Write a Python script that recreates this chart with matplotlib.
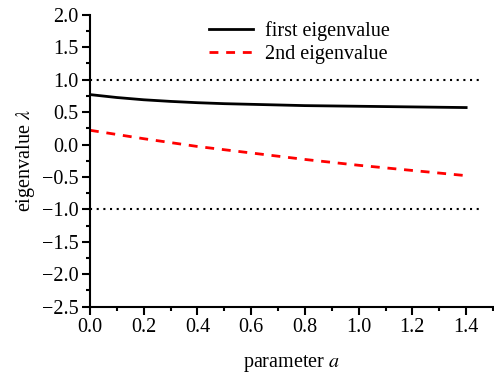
import matplotlib
matplotlib.use("Agg")
import matplotlib.pyplot as plt
from matplotlib.ticker import MultipleLocator

# eigenvalues of the map against the parameter a
param_a = [0.0, 0.1, 0.2, 0.3, 0.4, 0.5, 0.6, 0.7, 0.8, 0.9, 1.0, 1.1, 1.2, 1.3, 1.4]
first_eig = [0.77, 0.725, 0.69, 0.665, 0.645, 0.63, 0.62, 0.61, 0.60, 0.595, 0.59, 0.585, 0.58, 0.575, 0.57]
second_eig = [0.22, 0.155, 0.09, 0.03, -0.03, -0.08, -0.13, -0.18, -0.23, -0.275, -0.32, -0.36, -0.40, -0.44, -0.48]
stability_bounds = [1.0, -1.0]

plt.rcParams['font.family'] = ['Liberation Serif', 'DejaVu Serif']
plt.rcParams['mathtext.fontset'] = 'stix'
fs = 14.5

fig = plt.figure(figsize=(4.94, 3.8), dpi=100)
ax = fig.add_axes([0.182, 0.193, 0.816, 0.768])

for b in stability_bounds:
    ax.plot([0, 1.46], [b, b], color='black', linestyle=(0, (1, 2.2)), linewidth=1.5)

ax.plot(param_a, first_eig, color='black', linewidth=2.0, label='first eigenvalue')
ax.plot(param_a, second_eig, color='red', linewidth=2.0, linestyle=(0, (3.2, 2.8)),
        label='2nd eigenvalue')

ax.set_xlim(0, 1.5)
ax.set_ylim(-2.5, 2.0)
ax.xaxis.set_major_locator(MultipleLocator(0.2))
ax.xaxis.set_minor_locator(MultipleLocator(0.1))
ax.yaxis.set_major_locator(MultipleLocator(0.5))
ax.yaxis.set_minor_locator(MultipleLocator(0.25))

for side in ('top', 'right'):
    ax.spines[side].set_visible(False)
for side in ('left', 'bottom'):
    ax.spines[side].set_linewidth(1.5)

ax.tick_params(which='major', direction='out', length=6, width=1.5, labelsize=fs, pad=2)
ax.tick_params(which='minor', direction='out', length=3, width=1.5)

ax.set_xlabel('parameter $a$', fontsize=fs, labelpad=12)
ax.set_ylabel('eigenvalue $\\lambda$', fontsize=fs, labelpad=4)

ax.legend(loc='upper left', bbox_to_anchor=(0.25, 1.04), frameon=False, fontsize=fs,
          handlelength=2.2, handletextpad=0.6, labelspacing=0.2)

fig.savefig('out.png', dpi=100)
